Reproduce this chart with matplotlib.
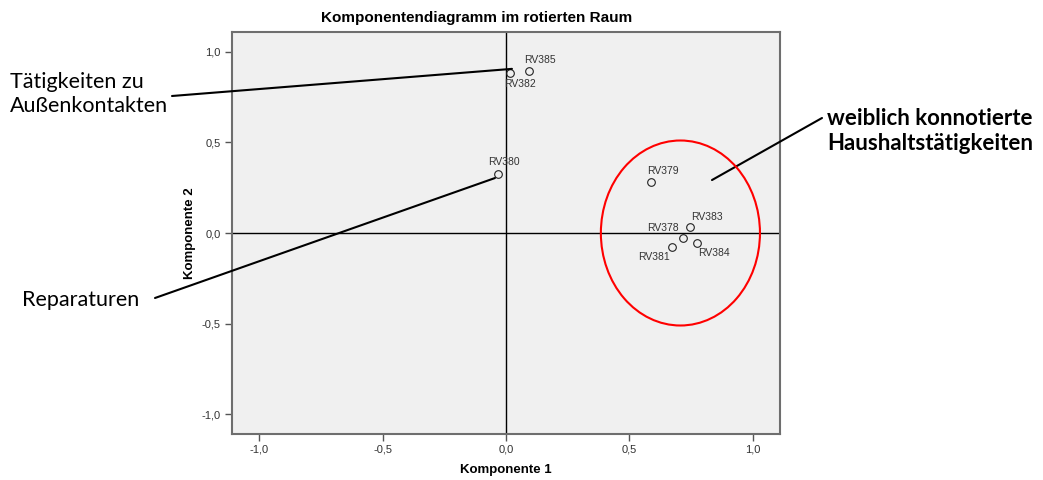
import numpy as np
import matplotlib.pyplot as plt
from matplotlib.patches import Ellipse

plt.rcParams['font.family'] = ['Liberation Sans', 'DejaVu Sans']

# rotated component loadings
items = ['RV385', 'RV382', 'RV380', 'RV379', 'RV383', 'RV378', 'RV384', 'RV381']
komp1 = [0.094, 0.016, -0.031, 0.587, 0.747, 0.717, 0.774, 0.673]
komp2 = [0.894, 0.881, 0.324, 0.280, 0.035, -0.026, -0.054, -0.079]
# label offsets (points) per item
label_dx = [8, 7, 4, 9, 12, -14, 12, -13]
label_dy = [8, -8, 9, 8, 7, 7, -7, -7]

ticks = [-1.0, -0.5, 0.0, 0.5, 1.0]
tick_labels = ['-1,0', '-0,5', '0,0', '0,5', '1,0']

fig = plt.figure(figsize=(10.43, 4.8), dpi=100)
ax = fig.add_axes([0.2222, 0.0963, 0.5257, 0.8377])
ax.set_facecolor('#f0f0f0')
ax.set_xlim(-1.112, 1.111)
ax.set_ylim(-1.107, 1.11)

ax.axhline(0, color='black', lw=1, zorder=1)
ax.axvline(0, color='black', lw=1, zorder=1)

ax.plot(komp1, komp2, 'o', ms=5.5, mfc='none', mec='#222222', mew=0.8, zorder=3)
for name, x, y, dx, dy in zip(items, komp1, komp2, label_dx, label_dy):
    ax.annotate(name, (x, y), xytext=(dx, dy), textcoords='offset points',
                ha='center', va='center', fontsize=7.5, color='#333333')

for sp in ax.spines.values():
    sp.set_color('#6e6e6e')
    sp.set_linewidth(1.5)

ax.set_xticks(ticks)
ax.set_xticklabels(tick_labels)
ax.set_yticks(ticks)
ax.set_yticklabels(tick_labels)
ax.tick_params(direction='out', length=5, width=1, color='#555555',
               labelsize=8, labelcolor='#333333', pad=3)

ax.set_xlabel('Komponente 1', fontsize=9.5, fontweight='bold')
ax.xaxis.set_label_coords(0.5, -0.075)
ax.set_ylabel('Komponente 2', fontsize=9.5, fontweight='bold')
ax.yaxis.set_label_coords(-0.066, 0.5)
# title is centred on the chart frame, a bit left of the axes centre
fig.text(477 / 1043, 1 - 18 / 480, 'Komponentendiagramm im rotierten Raum',
         fontsize=11, fontweight='bold', ha='center', va='center')

# cluster of household items
ax.add_patch(Ellipse((0.707, 0.0), 0.645, 1.02, fill=False, ec='red', lw=1.5, zorder=4))

note_font = ['Lato', 'DejaVu Sans']
line_kw = dict(arrowstyle='-', color='black', lw=1.5, shrinkA=0, shrinkB=0)

ax.annotate('', xy=(0.024, 0.905), xycoords='data',
            xytext=(172, 384), textcoords='figure pixels',
            arrowprops=line_kw, annotation_clip=False)
fig.text(10 / 1043, 1 - 94 / 480, 'Tätigkeiten zu\nAußenkontakten', fontsize=15.5,
         family=note_font, va='center', ha='left', multialignment='left',
         linespacing=1.25)

ax.annotate('', xy=(-0.045, 0.303), xycoords='data',
            xytext=(155, 182), textcoords='figure pixels',
            arrowprops=line_kw, annotation_clip=False)
fig.text(22 / 1043, 1 - 300 / 480, 'Reparaturen', fontsize=15.5,
         family=note_font, va='center', ha='left')

ax.annotate('', xy=(0.835, 0.292), xycoords='data',
            xytext=(822, 362), textcoords='figure pixels',
            arrowprops=line_kw, annotation_clip=False)
fig.text(827 / 1043, 1 - 131 / 480, 'weiblich konnotierte\nHaushaltstätigkeiten',
         fontsize=16, fontweight='bold', family=note_font,
         va='center', ha='left', multialignment='left', linespacing=1.25)

fig.savefig('out.png', dpi=100)
